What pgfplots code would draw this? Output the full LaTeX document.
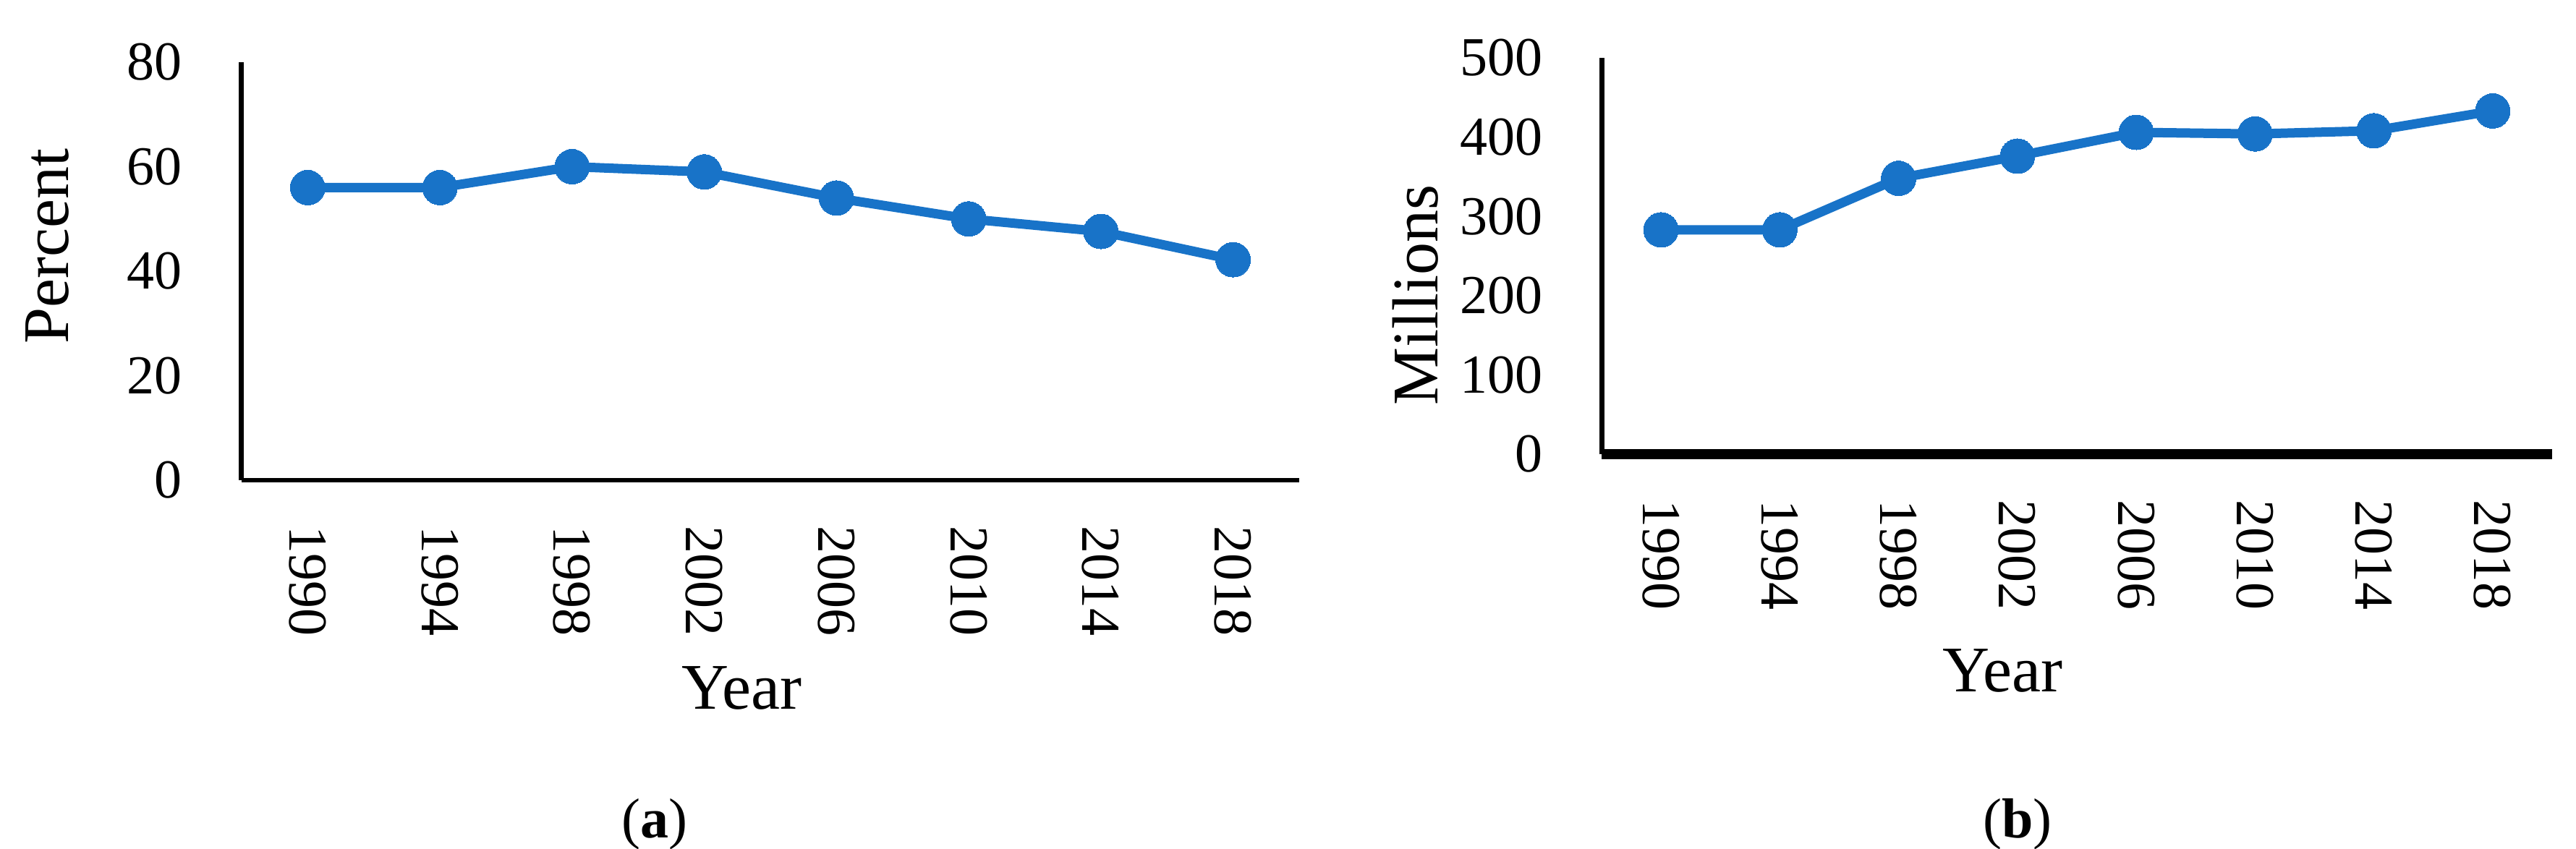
\documentclass[border=0pt]{standalone}
\usepackage{fontspec}
\setmainfont{Liberation Serif}
\usepackage{pgfplots}
\pgfplotsset{compat=1.18}
\definecolor{lineblue}{RGB}{24,115,200}

% shared look of both panels (1 px of the reference = 0.1pt)
\pgfplotsset{panel/.style={
    scale only axis,
    axis lines=left,
    axis line style={-, black},
    y axis line style={line width=0.7pt},
    xmin=1988, xmax=2020, ymin=0,
    xtick={1990,1994,...,2018},
    major tick length=0pt,
    /pgf/number format/assume math mode=true,
    /pgf/number format/1000 sep={},
    tick label style={font=\fontsize{7.6}{9}\selectfont},
    xticklabel style={rotate=-90, anchor=west, inner sep=0pt},
    yticklabel style={anchor=east, inner sep=0pt},
    xticklabel shift=6.1pt,
    yticklabel shift=8pt,
    label style={font=\fontsize{9}{11}\selectfont, anchor=center},
    clip=false,
  },
  ser/.style={line width=1.3pt, draw=lineblue,
    mark=*, mark size=2.4pt,
    mark options={solid, fill=lineblue, draw=lineblue, line width=0pt}},
}

\begin{document}
\begin{tikzpicture}
\useasboundingbox (0,0) rectangle (356.1pt,-117.4pt);

% (a) share, percent
\begin{axis}[panel,
    at={(33.4pt,-66.4pt)}, anchor=south west,
    width=146.2pt, height=57.8pt,
    ymax=80, ytick={0,20,...,80},
    x axis line style={line width=0.65pt},
    xlabel={Year}, ylabel={Percent},
    xlabel style={at={(axis description cs:0.473,-0.497)}},
    ylabel style={at={(axis description cs:-0.184,0.559)}},
]
\addplot[ser] coordinates {(1990,56) (1994,56) (1998,60) (2002,59) (2006,54) (2010,50) (2014,47.6) (2018,42.2)};
\end{axis}

% (b) number, millions
\begin{axis}[panel,
    at={(221.4pt,-62.8pt)}, anchor=south west,
    width=131.4pt, height=54.8pt,
    ymax=500, ytick={0,100,...,500},
    x axis line style={line width=1.37pt},
    xlabel={Year}, ylabel={Millions},
    xlabel style={at={(axis description cs:0.422,-0.546)}},
    ylabel style={at={(axis description cs:-0.196,0.401)}},
]
\addplot[ser] coordinates {(1990,283) (1994,283) (1998,348) (2002,376) (2006,406) (2010,404) (2014,408) (2018,433)};
\end{axis}

\node[font=\fontsize{7.8}{9}\selectfont] at (90.5pt,-114pt) {(\textbf{a})};
\node[font=\fontsize{7.8}{9}\selectfont] at (278.9pt,-114pt) {(\textbf{b})};
\end{tikzpicture}
\end{document}
